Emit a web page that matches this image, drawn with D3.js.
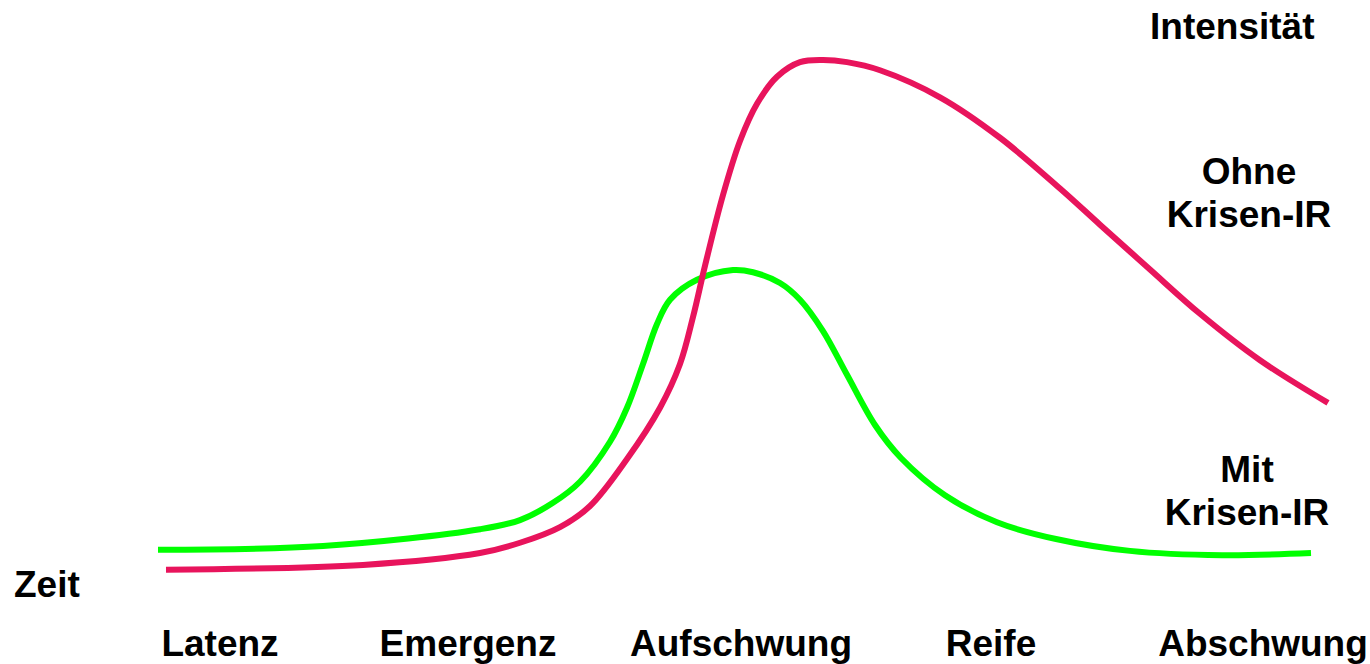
<!DOCTYPE html>
<html>
<head>
<meta charset="utf-8">
<script src="https://cdn.jsdelivr.net/npm/d3@7"></script>
<style>
  html, body { margin: 0; padding: 0; background: #ffffff; }
  svg { display: block; }
  text { font-family: "Liberation Sans", Arial, Helvetica, sans-serif; font-weight: bold; fill: #000; }
</style>
</head>
<body>
<div id="chart"></div>
<script>
// Phases (categories) along the time axis and their mid-points (time units)
const phases = ["Latenz", "Emergenz", "Aufschwung", "Reife", "Abschwung"];
const phaseMid = [9, 33.8, 61.1, 86.1, 113.3];

// Series: "Ohne Krisen-IR" (without crisis IR) – time / intensity readings
const ohneTime = [3.6, 23.3, 35, 39, 43, 46, 49.7, 53, 55, 56.3, 57.5, 59.3, 61, 62.7, 64.7, 67, 69.3, 71.7, 75, 81, 87, 93, 97, 102, 107, 113, 119.8];
const ohneIntensity = [5.6, 6.5, 8.7, 10.6, 13.5, 17.4, 26.1, 35.6, 43.7, 52.4, 61.9, 75, 85, 91.9, 96.9, 99.6, 100, 99.6, 98.1, 93.1, 85.6, 76.2, 69.5, 61.2, 53, 44.4, 36.5];

// Series: "Mit Krisen-IR" (with crisis IR)
const mitTime = [2.8, 19.3, 35, 39, 42.3, 45, 48, 49.7, 51.3, 52.7, 54, 56.7, 60.3, 62.3, 65, 67, 69.3, 71.7, 74.5, 77.1, 81.5, 86.7, 92.6, 100, 109.2, 118.1];
const mitIntensity = [9.3, 10, 13.1, 14.8, 18, 21.9, 29.3, 35.6, 43.7, 51.1, 55.6, 59.3, 61.1, 60.7, 58.7, 55.6, 49.8, 41.7, 32.4, 26.3, 19.4, 14.4, 11.3, 9.1, 8.3, 8.7];

// Texts
const axisTitleX = "Zeit";
const axisTitleY = "Intensität";
const labelOhne = ["Ohne", "Krisen-IR"];
const labelMit = ["Mit", "Krisen-IR"];

const W = 1370, H = 664;
const svg = d3.select("#chart").append("svg").attr("width", W).attr("height", H);

const x = d3.scaleLinear().domain([0, 120]).range([130, 1330]);
const y = d3.scaleLinear().domain([0, 100]).range([600, 60]);

const line = d3.line()
  .x(d => x(d[0]))
  .y(d => y(d[1]))
  .curve(d3.curveCatmullRom.alpha(0.5));

const ohne = ohneTime.map((t, i) => [t, ohneIntensity[i]]);
const mit = mitTime.map((t, i) => [t, mitIntensity[i]]);

svg.append("path").datum(mit)
  .attr("d", line).attr("fill", "none")
  .attr("stroke", "#00FF00").attr("stroke-width", 6);

svg.append("path").datum(ohne)
  .attr("d", line).attr("fill", "none")
  .attr("stroke", "#E8145C").attr("stroke-width", 6);

const fs = 37;

// Phase labels along the bottom
svg.append("g").selectAll("text").data(phases).join("text")
  .attr("x", (d, i) => x(phaseMid[i]))
  .attr("y", 656)
  .attr("text-anchor", "middle")
  .attr("font-size", fs)
  .text(d => d);

// Axis titles
svg.append("text").attr("x", 14).attr("y", 597).attr("font-size", fs).text(axisTitleX);
svg.append("text").attr("x", 1150).attr("y", 39).attr("font-size", fs).text(axisTitleY);

// Series labels
function multi(lines, cx, baseline) {
  const t = svg.append("text").attr("text-anchor", "middle").attr("font-size", fs);
  lines.forEach((s, i) => {
    t.append("tspan").attr("x", cx).attr("y", baseline + i * 43).text(s);
  });
}
multi(labelOhne, 1249, 184);
multi(labelMit, 1247, 482);
</script>
</body>
</html>
